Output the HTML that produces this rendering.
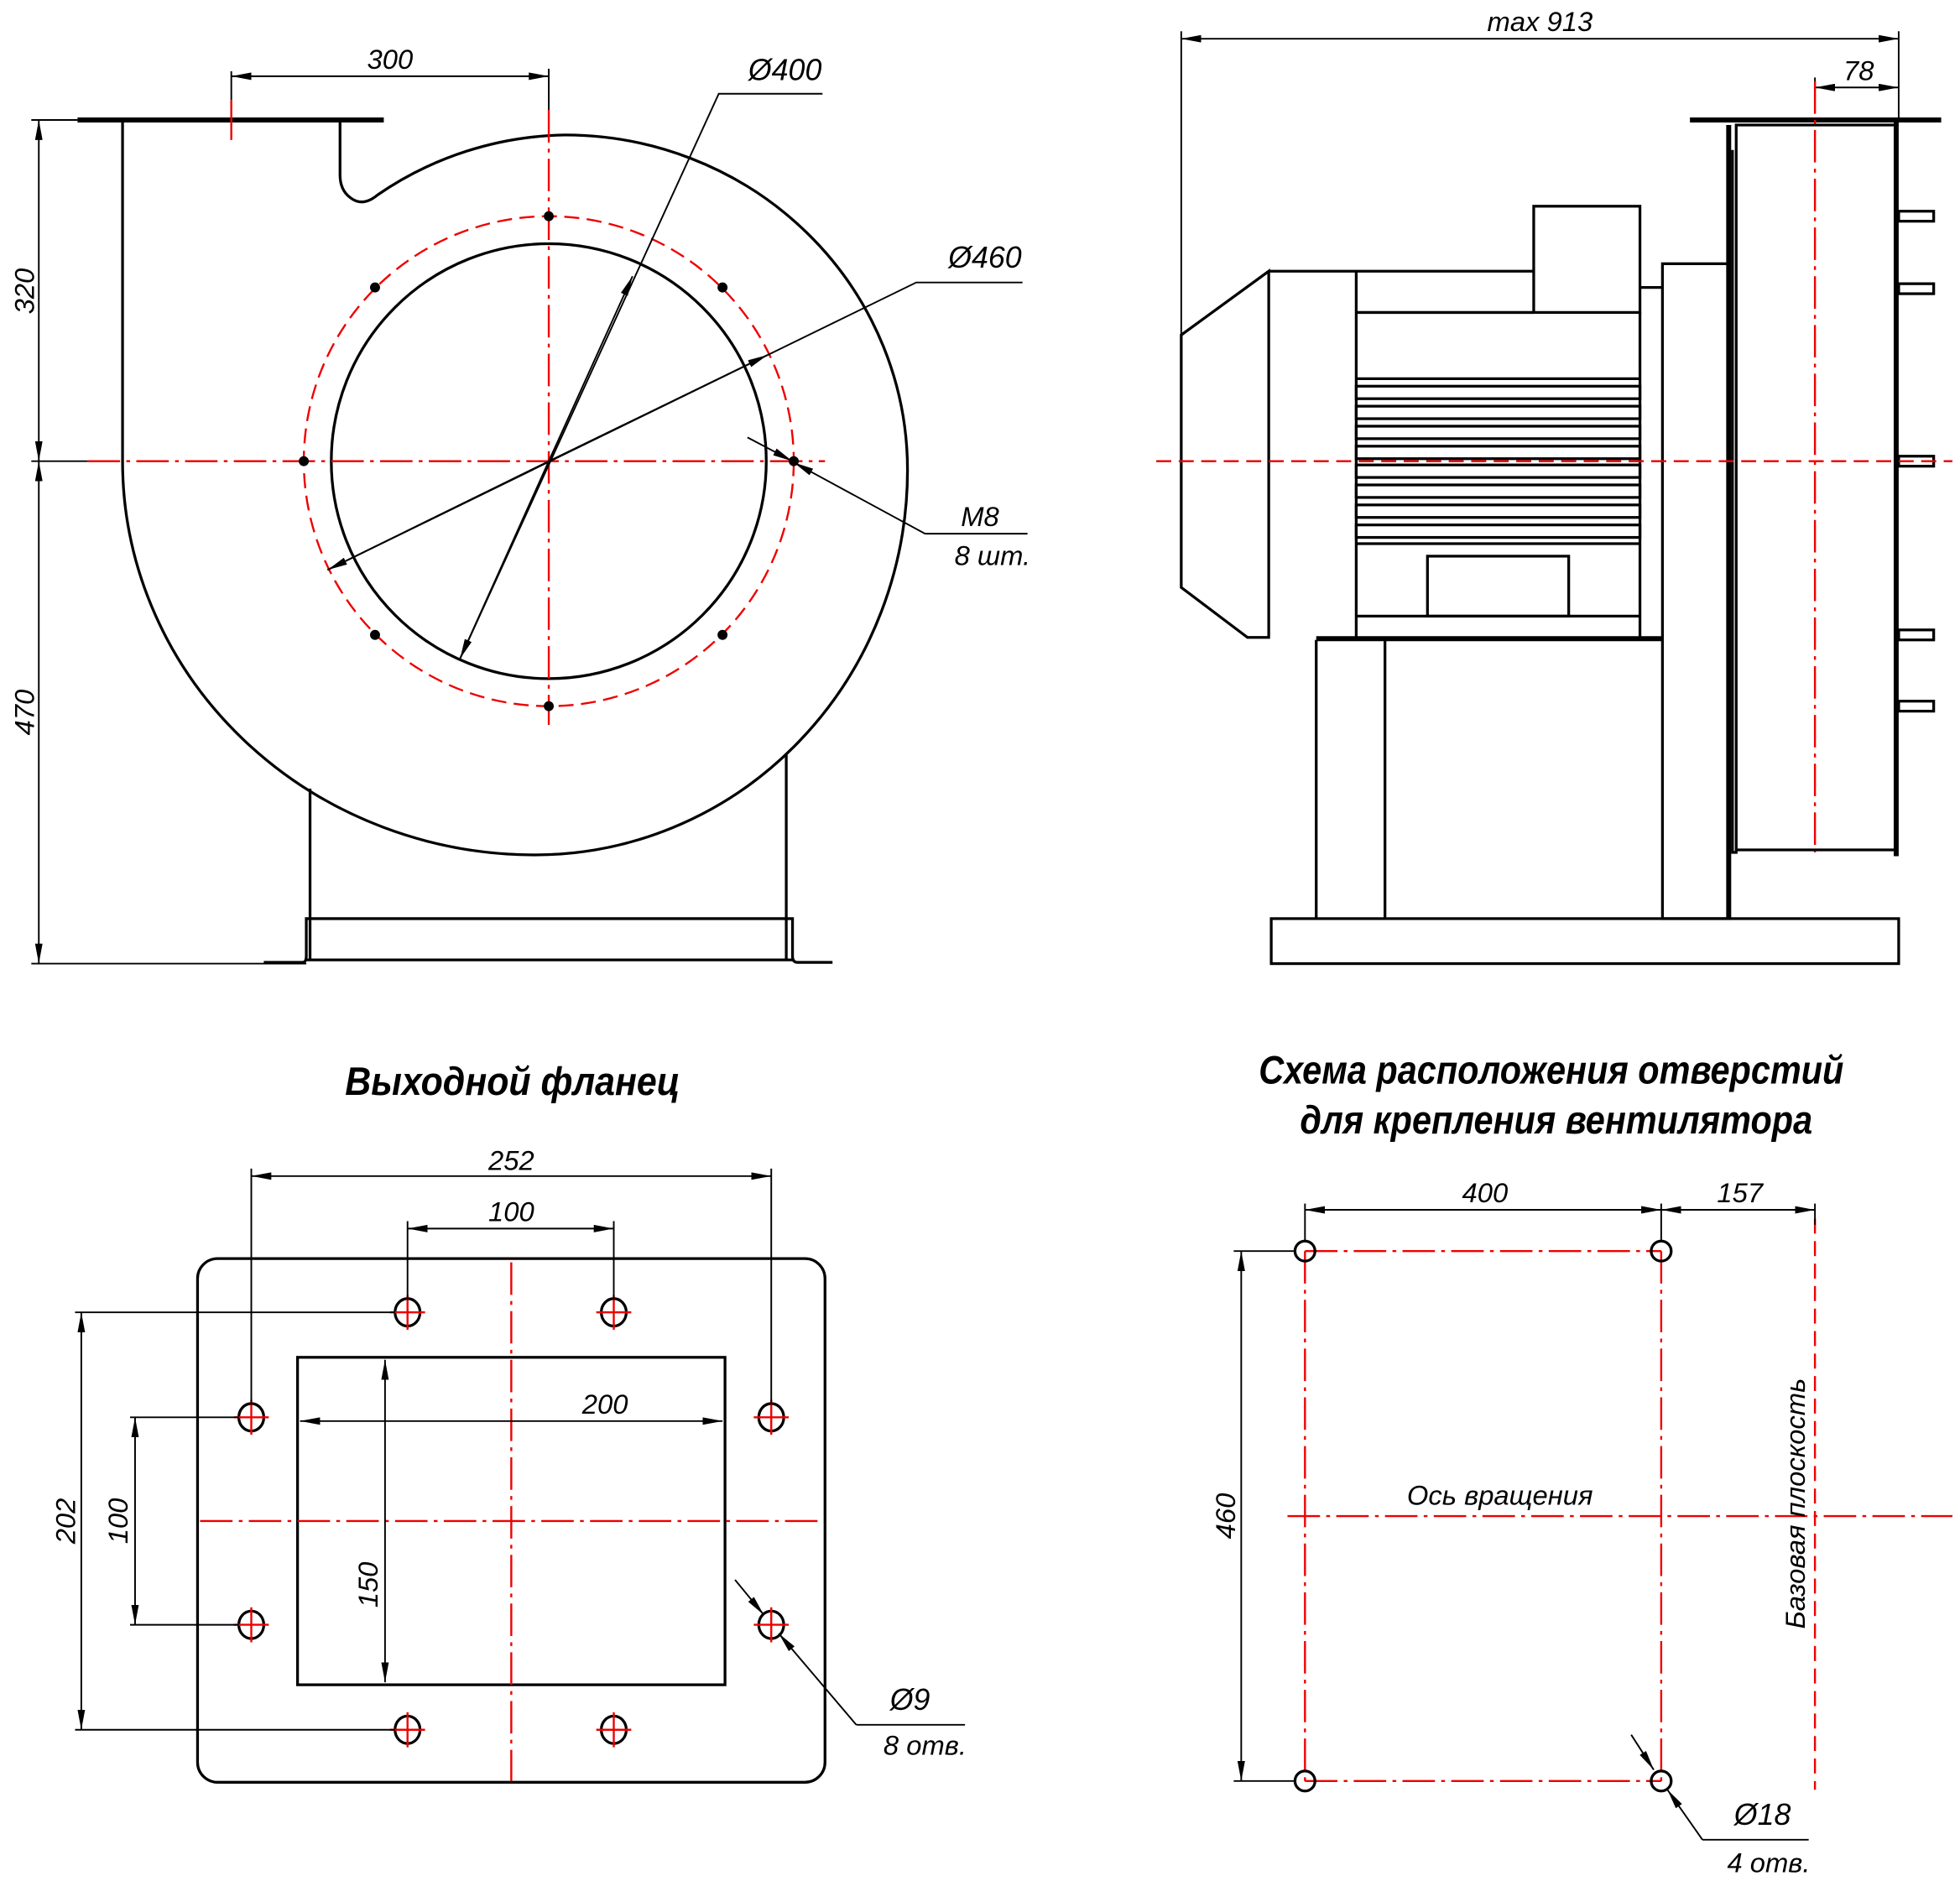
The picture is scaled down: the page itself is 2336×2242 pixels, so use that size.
<!DOCTYPE html>
<html><head><meta charset="utf-8"><style>
html,body{margin:0;padding:0;background:#fff}
svg{display:block}
text{font-family:"Liberation Sans",sans-serif;font-style:italic;fill:#000}
.k{stroke:#000;stroke-width:2.2;fill:none}
.t{stroke:#000;stroke-width:1.3;fill:none}
.b{stroke:#000;stroke-width:4;fill:none}
.r{stroke:#e00;stroke-width:1.6;fill:none;stroke-dasharray:26 5 3 5}
.rd{stroke:#e00;stroke-width:1.6;fill:none;stroke-dasharray:12 6}
.rs{stroke:#e00;stroke-width:1.6;fill:none}
</style></head><body>
<svg width="2336" height="2242" viewBox="0 0 1568 1505" xmlns="http://www.w3.org/2000/svg">
<defs>
<marker id="a" viewBox="0 0 16 6" refX="16" refY="3" markerWidth="16" markerHeight="6" markerUnits="userSpaceOnUse" orient="auto-start-reverse"><path d="M0,0 L16,3 L0,6 Z" fill="#000"/></marker>
</defs>

<!-- LEFT VIEW -->
<line x1="62" y1="96" x2="307" y2="96" class="b"/>
<path class="k" d="M98 98 V369 A330 315 0 0 0 428 684 A298 308 0 0 0 726 376 A274 268 0 0 0 452 108 A272 272 0 0 0 302 156 Q290 166 280 158 Q272 152 272 140 V98"/>
<circle cx="439" cy="369" r="174" class="k"/>
<circle cx="439" cy="369" r="196" class="rd"/>
<line x1="70" y1="369" x2="660" y2="369" class="r"/>
<line x1="439" y1="88" x2="439" y2="580" class="r"/>
<line x1="185" y1="80" x2="185" y2="112" class="rs"/>
<g fill="#000">
<circle cx="635" cy="369" r="4"/><circle cx="243" cy="369" r="4"/>
<circle cx="439" cy="173" r="4"/><circle cx="439" cy="565" r="4"/>
<circle cx="578" cy="230" r="4"/><circle cx="300" cy="230" r="4"/>
<circle cx="578" cy="508" r="4"/><circle cx="300" cy="508" r="4"/>
</g>
<!-- legs/base -->
<line x1="248" y1="631" x2="248" y2="768" class="k"/>
<line x1="629" y1="604" x2="629" y2="768" class="k"/>
<path class="k" d="M211 770 H242 Q245 770 245 765 V735 H634 V765 Q634 770 638 770 H666"/>
<line x1="245" y1="768" x2="634" y2="768" class="k"/>
<!-- dims -->
<line x1="185" y1="57" x2="185" y2="80" class="t"/>
<line x1="439" y1="55" x2="439" y2="88" class="t"/>
<line x1="185" y1="61" x2="439" y2="61" class="t" marker-start="url(#a)" marker-end="url(#a)"/>
<text x="312" y="55" font-size="22" text-anchor="middle">300</text>
<line x1="25" y1="96" x2="62" y2="96" class="t"/>
<line x1="25" y1="369" x2="70" y2="369" class="t"/>
<line x1="25" y1="771" x2="245" y2="771" class="t"/>
<line x1="31" y1="96" x2="31" y2="369" class="t" marker-start="url(#a)" marker-end="url(#a)"/>
<line x1="31" y1="369" x2="31" y2="771" class="t" marker-start="url(#a)" marker-end="url(#a)"/>
<text transform="translate(27,233) rotate(-90)" font-size="22" text-anchor="middle">320</text>
<text transform="translate(27,570) rotate(-90)" font-size="22" text-anchor="middle">470</text>
<polyline points="368,527 575,75 658,75" class="t"/>
<line x1="439" y1="369" x2="368" y2="527" class="t" marker-end="url(#a)"/>
<line x1="439" y1="369" x2="506" y2="221" class="t" marker-end="url(#a)"/>
<text x="628" y="64" font-size="24" text-anchor="middle">Ø400</text>
<polyline points="262,456 733,226 818,226" class="t"/>
<line x1="439" y1="369" x2="262" y2="456" class="t" marker-end="url(#a)"/>
<line x1="439" y1="369" x2="614" y2="284" class="t" marker-end="url(#a)"/>
<text x="788" y="214" font-size="24" text-anchor="middle">Ø460</text>
<line x1="598" y1="350" x2="634" y2="369" class="t" marker-end="url(#a)"/>
<polyline points="740,427 635,370" class="t" marker-end="url(#a)"/>
<line x1="740" y1="427" x2="822" y2="427" class="t"/>
<text x="784" y="421" font-size="22" text-anchor="middle">M8</text>
<text x="794" y="452" font-size="22" text-anchor="middle">8 шт.</text>

<!-- RIGHT VIEW -->
<line x1="945" y1="25" x2="945" y2="268" class="t"/>
<line x1="1519" y1="25" x2="1519" y2="96" class="t"/>
<line x1="945" y1="31" x2="1519" y2="31" class="t" marker-start="url(#a)" marker-end="url(#a)"/>
<text x="1232" y="25" font-size="22" text-anchor="middle">max 913</text>
<line x1="1452" y1="70" x2="1519" y2="70" class="t" marker-start="url(#a)" marker-end="url(#a)"/>
<line x1="1452" y1="62" x2="1452" y2="78" class="t"/>
<text x="1487" y="64" font-size="22" text-anchor="middle">78</text>
<line x1="1352" y1="96" x2="1553" y2="96" class="b"/>
<line x1="1517" y1="98" x2="1517" y2="685" class="b"/>
<path class="k" d="M1386 120 V682 H1389 V100 H1515 M1389 680 H1515"/>
<line x1="1383" y1="100" x2="1383" y2="735" class="b"/>
<g class="k">
<rect x="1519" y="169" width="28" height="8"/>
<rect x="1519" y="227" width="28" height="8"/>
<rect x="1519" y="365" width="28" height="8"/>
<rect x="1519" y="504" width="28" height="8"/>
<rect x="1519" y="561" width="28" height="8"/>
</g>
<path class="k" d="M945 268 L1015 217 V510 H998 L945 470 Z"/>
<line x1="1015" y1="217" x2="1227" y2="217" class="k"/>
<line x1="1085" y1="217" x2="1085" y2="510" class="k"/>
<rect x="1227" y="165" width="85" height="85" class="k"/>
<line x1="1085" y1="250" x2="1227" y2="250" class="k"/>
<line x1="1312" y1="250" x2="1312" y2="510" class="k"/>
<line x1="1085" y1="303" x2="1312" y2="303" class="k"/>
<g class="k">
<rect x="1085" y="309" width="227" height="10"/>
<rect x="1085" y="325" width="227" height="10"/>
<rect x="1085" y="341" width="227" height="10"/>
<rect x="1085" y="357" width="227" height="10"/>
<rect x="1085" y="372" width="227" height="10"/>
<rect x="1085" y="388" width="227" height="10"/>
<rect x="1085" y="404" width="227" height="10"/>
<rect x="1085" y="420" width="227" height="10"/>
</g>
<line x1="1085" y1="435" x2="1312" y2="435" class="k"/>
<rect x="1142" y="445" width="113" height="48" class="k"/>
<line x1="1085" y1="493" x2="1312" y2="493" class="k"/>
<line x1="1312" y1="230" x2="1330" y2="230" class="k"/>
<rect x="1330" y="211" width="53" height="524" class="k"/>
<line x1="1053" y1="511" x2="1330" y2="511" class="b"/>
<line x1="1053" y1="512" x2="1053" y2="735" class="k"/>
<line x1="1108" y1="512" x2="1108" y2="735" class="k"/>
<rect x="1017" y="735" width="502" height="36" class="k"/>
<line x1="1452" y1="65" x2="1452" y2="682" class="r"/>
<line x1="925" y1="369" x2="1562" y2="369" class="rd"/>

<!-- OUTLET FLANGE -->
<text x="410" y="876" font-size="32" font-weight="bold" text-anchor="middle" textLength="268" lengthAdjust="spacingAndGlyphs">Выходной фланец</text>
<rect x="158" y="1007" width="502" height="419" rx="16" class="k"/>
<rect x="238" y="1086" width="342" height="262" class="k"/>
<line x1="409" y1="1010" x2="409" y2="1425" class="r"/>
<line x1="160" y1="1217" x2="658" y2="1217" class="r"/>
<g>
<g class="k">
<ellipse cx="326" cy="1050" rx="10" ry="11"/><ellipse cx="491" cy="1050" rx="10" ry="11"/>
<ellipse cx="201" cy="1134" rx="10" ry="11"/><ellipse cx="617" cy="1134" rx="10" ry="11"/>
<ellipse cx="201" cy="1300" rx="10" ry="11"/><ellipse cx="617" cy="1300" rx="10" ry="11"/>
<ellipse cx="326" cy="1384" rx="10" ry="11"/><ellipse cx="491" cy="1384" rx="10" ry="11"/>
</g>
<path class="rs" d="M312 1050h28M326 1036v28 M477 1050h28M491 1036v28 M187 1134h28M201 1120v28 M603 1134h28M617 1120v28 M187 1300h28M201 1286v28 M603 1300h28M617 1286v28 M312 1384h28M326 1370v28 M477 1384h28M491 1370v28"/>
</g>
<line x1="201" y1="935" x2="201" y2="1124" class="t"/>
<line x1="617" y1="935" x2="617" y2="1124" class="t"/>
<line x1="201" y1="941" x2="617" y2="941" class="t" marker-start="url(#a)" marker-end="url(#a)"/>
<text x="409" y="936" font-size="22" text-anchor="middle">252</text>
<line x1="326" y1="977" x2="326" y2="1040" class="t"/>
<line x1="491" y1="977" x2="491" y2="1040" class="t"/>
<line x1="326" y1="983" x2="491" y2="983" class="t" marker-start="url(#a)" marker-end="url(#a)"/>
<text x="409" y="977" font-size="22" text-anchor="middle">100</text>
<line x1="240" y1="1137" x2="578" y2="1137" class="t" marker-start="url(#a)" marker-end="url(#a)"/>
<text x="484" y="1131" font-size="22" text-anchor="middle">200</text>
<line x1="308" y1="1088" x2="308" y2="1346" class="t" marker-start="url(#a)" marker-end="url(#a)"/>
<text transform="translate(302,1268) rotate(-90)" font-size="22" text-anchor="middle">150</text>
<line x1="60" y1="1050" x2="316" y2="1050" class="t"/>
<line x1="60" y1="1384" x2="316" y2="1384" class="t"/>
<line x1="65" y1="1050" x2="65" y2="1384" class="t" marker-start="url(#a)" marker-end="url(#a)"/>
<text transform="translate(60,1217) rotate(-90)" font-size="22" text-anchor="middle">202</text>
<line x1="104" y1="1134" x2="191" y2="1134" class="t"/>
<line x1="104" y1="1300" x2="191" y2="1300" class="t"/>
<line x1="108" y1="1134" x2="108" y2="1300" class="t" marker-start="url(#a)" marker-end="url(#a)"/>
<text transform="translate(102,1217) rotate(-90)" font-size="22" text-anchor="middle">100</text>
<line x1="588" y1="1264" x2="611" y2="1292" class="t" marker-end="url(#a)"/>
<line x1="685" y1="1380" x2="623" y2="1307" class="t" marker-end="url(#a)"/>
<line x1="685" y1="1380" x2="772" y2="1380" class="t"/>
<text x="728" y="1368" font-size="24" text-anchor="middle">Ø9</text>
<text x="740" y="1404" font-size="22" text-anchor="middle">8 отв.</text>

<!-- HOLE SCHEME -->
<text x="1241" y="867" font-size="32" font-weight="bold" text-anchor="middle" textLength="468" lengthAdjust="spacingAndGlyphs">Схема расположения отверстий</text>
<text x="1245" y="907" font-size="32" font-weight="bold" text-anchor="middle" textLength="410" lengthAdjust="spacingAndGlyphs">для крепления вентилятора</text>
<line x1="1044" y1="1001" x2="1329" y2="1001" class="r"/>
<line x1="1044" y1="1425" x2="1329" y2="1425" class="r"/>
<line x1="1044" y1="1001" x2="1044" y2="1430" class="r"/>
<line x1="1329" y1="1001" x2="1329" y2="1430" class="r"/>
<line x1="1452" y1="975" x2="1452" y2="1432" class="rd"/>
<line x1="1030" y1="1213" x2="1562" y2="1213" class="r"/>
<g class="k">
<circle cx="1044" cy="1001" r="8"/><circle cx="1329" cy="1001" r="8"/>
<circle cx="1044" cy="1425" r="8"/><circle cx="1329" cy="1425" r="8"/>
</g>
<line x1="1044" y1="963" x2="1044" y2="993" class="t"/>
<line x1="1329" y1="963" x2="1329" y2="993" class="t"/>
<line x1="1452" y1="963" x2="1452" y2="980" class="t"/>
<line x1="1044" y1="968" x2="1329" y2="968" class="t" marker-start="url(#a)" marker-end="url(#a)"/>
<line x1="1329" y1="968" x2="1452" y2="968" class="t" marker-start="url(#a)" marker-end="url(#a)"/>
<text x="1188" y="962" font-size="22" text-anchor="middle">400</text>
<text x="1392" y="962" font-size="22" text-anchor="middle">157</text>
<line x1="987" y1="1001" x2="1036" y2="1001" class="t"/>
<line x1="987" y1="1425" x2="1036" y2="1425" class="t"/>
<line x1="993" y1="1001" x2="993" y2="1425" class="t" marker-start="url(#a)" marker-end="url(#a)"/>
<text transform="translate(988,1213) rotate(-90)" font-size="22" text-anchor="middle">460</text>
<text x="1200" y="1204" font-size="22" text-anchor="middle">Ось вращения</text>
<text transform="translate(1444,1203) rotate(-90)" font-size="22" text-anchor="middle">Базовая плоскость</text>
<line x1="1305" y1="1388" x2="1323" y2="1416" class="t" marker-end="url(#a)"/>
<line x1="1362" y1="1472" x2="1334" y2="1432" class="t" marker-end="url(#a)"/>
<line x1="1362" y1="1472" x2="1447" y2="1472" class="t"/>
<text x="1410" y="1460" font-size="24" text-anchor="middle">Ø18</text>
<text x="1415" y="1498" font-size="22" text-anchor="middle">4 отв.</text>
</svg>
</body></html>
